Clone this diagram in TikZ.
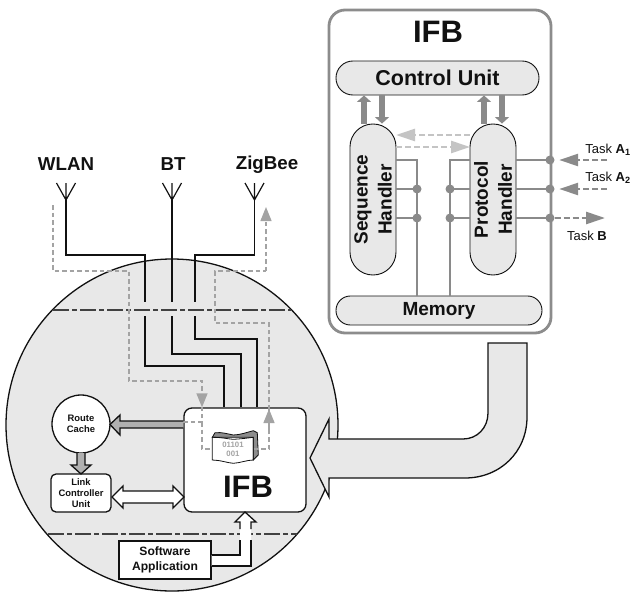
\documentclass[tikz,border=0pt]{standalone}
\usepackage{fontspec}
\setmainfont{Liberation Sans}
\usepackage{xcolor}
\usetikzlibrary{arrows.meta,calc}
\definecolor{ifbInk}{HTML}{111111}
\definecolor{ifbFrame}{HTML}{8C8C8C}
\definecolor{ifbBus}{HTML}{8A8A8A}
\definecolor{ifbPale}{HTML}{C4C4C4}
\definecolor{ifbDash}{HTML}{A3A3A3}
\definecolor{ifbFill}{HTML}{E8E8E8}
\definecolor{ifbMid}{HTML}{B0B0B0}
\tikzset{
  % Rounded unit inside the protocol box
  unitbox/.style={rectangle,draw=ifbInk,line width=0.9pt,fill=ifbFill,
    align=center,inner sep=0pt,text=ifbInk,
    font=\fontsize{19}{24}\selectfont\bfseries},
  % White blocks on the device
  devbox/.style={rectangle,draw=ifbInk,line width=1.3pt,fill=white,
    align=center,inner sep=0pt,text=ifbInk,
    font=\fontsize{9.4}{11.2}\selectfont\bfseries},
  % Labels
  radiolbl/.style={font=\fontsize{18.7}{20}\selectfont\bfseries,text=ifbInk},
  biglbl/.style={font=\fontsize{31}{33}\selectfont\bfseries,text=ifbInk},
  tasklbl/.style={font=\fontsize{13}{15}\selectfont,text=ifbInk},
  % Wires and buses
  wire/.style={draw=ifbInk,line width=1.4pt},
  dwire/.style={draw=ifbDash,line width=1.3pt,dash pattern=on 4.5pt off 3pt},
  dhead/.style={-{Triangle[length=14pt,width=11pt,color=ifbDash]}},
  bus/.style={draw=ifbBus,line width=2.2pt},
  busarr/.style={draw=ifbBus,line width=5.5pt,
    -{Triangle[length=6.5pt,width=14pt,color=ifbBus]}},
  tdash/.style={draw=ifbBus,line width=2.6pt,dash pattern=on 6pt off 3pt},
  thead/.style={-{Triangle[length=19pt,width=12pt,color=ifbBus]}},
  pdash/.style={draw=ifbPale,line width=2.6pt,dash pattern=on 6pt off 3pt,
    -{Triangle[length=19pt,width=12pt,color=ifbPale]}},
  cutline/.style={draw=ifbInk!80,line width=1.3pt,dash pattern=on 16pt off 3pt on 5pt off 3pt},
  junction/.style={circle,fill=ifbBus,inner sep=0pt,minimum size=9pt},
  antenna/.style={draw=ifbInk,line width=1.2pt},
  outl/.style={draw=ifbInk,line width=1.3pt},
}
\begin{document}
\begin{tikzpicture}[x=1pt,y=-1pt]
  \useasboundingbox (0,0) rectangle (635,592);

  % Protocol box
  \node[draw=ifbFrame,line width=2.8pt,fill=white,rounded corners=16pt,
    minimum width=222pt,minimum height=323pt,inner sep=0pt] (ifbOuter) at (440,171.5) {};
  \node[biglbl] (ifbTitle) at (438,32) {IFB};
  \node[unitbox,rounded corners=16.9pt,minimum width=203pt,minimum height=34pt,
    font=\fontsize{21.5}{23}\selectfont\bfseries] (ctrlUnit) at (437.5,78) {Control Unit};
  \node[unitbox,rounded corners=14.4pt,minimum width=206pt,minimum height=29pt] (memUnit) at (439,310.5) {Memory};
  \node[unitbox,rotate=90,rounded corners=22.9pt,minimum width=151pt,minimum height=46pt] (seqH) at (373,199.5) {Sequence\\Handler};
  \node[unitbox,rotate=90,rounded corners=22.9pt,minimum width=151pt,minimum height=46pt] (protoH) at (493,199.5) {Protocol\\Handler};

  % Control arrows
  \draw[busarr] (364,0 |- seqH.east) -- (364,0 |- ctrlUnit.south);
  \draw[busarr] (382,0 |- ctrlUnit.south) -- (382,0 |- seqH.east);
  \draw[busarr] (484,0 |- protoH.east) -- (484,0 |- ctrlUnit.south);
  \draw[busarr] (502,0 |- ctrlUnit.south) -- (502,0 |- protoH.east);

  % Handler to handler
  \draw[pdash] (470,135) -- (396,135);
  \draw[pdash] (396,147) -- (470,147);

  % Memory buses
  \draw[bus] (396,160) -| (417,0 |- memUnit.north);
  \draw[bus] (470,160) -| (450,0 |- memUnit.north);
  \foreach \y in {189,218} {
    \draw[bus] (396,\y) -- (417,\y);
    \draw[bus] (450,\y) -- (470,\y);
    \node[junction] (seqJ\y) at (417,\y) {};
    \node[junction] (protoJ\y) at (450,\y) {};
  }
  \foreach \y in {160,189,218} {
    \draw[bus] (516,\y) -- (550,\y);
    \node[junction] (outJ\y) at (550,\y) {};
  }

  % Tasks
  \coordinate (taskAa) at (607,160);
  \coordinate (taskAb) at (607,189);
  \coordinate (taskBb) at (605,218);
  \draw[tdash,thead,shorten >=4.5pt] (taskAa) -- (outJ160);
  \draw[tdash,thead,shorten >=4.5pt] (taskAb) -- (outJ189);
  \draw[tdash,thead] (outJ218) -- (taskBb);
  \node[tasklbl] (taskAaL) at (608,150) {Task \textbf{A\textsubscript{1}}};
  \node[tasklbl] (taskAbL) at (608,178) {Task \textbf{A\textsubscript{2}}};
  \node[tasklbl] (taskBL) at (587,236) {Task \textbf{B}};

  % Radios
  \node[radiolbl] (wlanL) at (66,164) {WLAN};
  \node[radiolbl] (btL) at (173,164) {BT};
  \node[radiolbl] (zigL) at (267,165) {ZigBee};
  \foreach \n/\x in {wlanFeed/66,btFeed/172,zigFeed/254.5} {
    \coordinate (\n) at (\x,200);
    \draw[antenna] (\x-9.5,183) -- (\n) -- (\x+9.5,183) (\n) -- (\x,183);
  }

  % Device
  \node[circle,draw=ifbInk,line width=1.3pt,fill=ifbFill,minimum size=332pt,inner sep=0pt] (devDisc) at (172,425) {};
  \draw[cutline] (53,310) -- (291,310);
  \draw[cutline] (48,534) -- (297,534);

  % Radio wires
  \draw[wire] (wlanFeed) |- (145,255) -- (145,302);
  \draw[wire] (btFeed) -- (172,302);
  \draw[wire] (zigFeed) |- (195,255) -- (195,302);

  % Device blocks
  \node[devbox,minimum width=122pt,minimum height=104pt,rounded corners=8pt] (ifbLocal) at (245,460) {};
  \node[biglbl] (ifbLocalL) at (248,487) {IFB};
  \node[devbox,circle,minimum size=58pt] (routeCache) at (81,424) {Route\\Cache};
  \node[devbox,rounded corners=5pt,minimum width=60pt,minimum height=38pt] (linkUnit) at (81,493) {Link\\Controller\\Unit};
  \node[devbox,minimum width=92pt,minimum height=38pt,
    font=\fontsize{12.1}{15}\selectfont\bfseries] (swApp) at (165,560) {Software\\Application};

  \draw[wire] (145,316) |- (224,366) -- (224,0 |- ifbLocal.north);
  \draw[wire] (172,316) |- (241,354) -- (241,0 |- ifbLocal.north);
  \draw[wire] (195,316) |- (257,339) -- (257,0 |- ifbLocal.north);

  % Packet icon
  \draw[outl,line width=0.8pt,fill=ifbFrame] (212.3,437.3) -- (215,432.7)
    .. controls (222,432) and (228,434) .. (233.3,435)
    .. controls (240,435) and (248,432) .. (253.3,430.7)
    -- (257.3,432.7) -- (258.3,455) -- (253.3,460) -- (253.3,437.3) -- cycle;
  \node[inner sep=0pt,font=\fontsize{7.8}{9}\selectfont\bfseries,text=ifbDash,align=center,
    minimum width=41pt,minimum height=23pt] (packet) at (233,449) {01101\\001};
  \draw[outl,line width=0.8pt] (212.3,437.3) .. controls (220,437) and (228,439) .. (233.3,439.3)
    .. controls (240,439) and (248,438) .. (253.3,437.3) -- (253.3,460)
    .. controls (247,460) and (240,463) .. (233.3,463.3)
    .. controls (228,463) and (220,460) .. (212.3,460) -- cycle;

  % Dashed flow in
  \coordinate (wlanTail) at (53,205);
  \draw[dwire,dhead] (wlanTail) |- (129,271) |- (202,381) -- (202,0 |- ifbLocal.north);
  \draw[dwire] (ifbLocal.west |- 0,422) -- (202,422) -- (202,0 |- ifbLocal.north);
  \draw[dwire] (202,422) |- (packet.west);

  % Dashed flow out
  \draw[dwire] (packet.east) -| (269,409);
  \draw[dwire,dhead] (269,430) -- (269,409);
  \coordinate (zigTip) at (266,207);
  \draw[dwire] (269,409) |- (215,323) |- (266,271);
  \draw[dwire,dhead] (266,271) -- (zigTip);

  % Block arrows
  \draw[outl,fill=ifbMid] (ifbLocal.west |- 0,421) -- (120,421) -- (120,415) -- (110,424.5)
    -- (120,435) -- (120,428) -- (ifbLocal.west |- 0,428);
  \draw[outl,fill=ifbMid] (77,453) -- (77,465) -- (71,465) -- (81,474) -- (91,465) -- (85,465) -- (85,453);
  \draw[outl,fill=white] (112,497) -- (123,486) -- (123,491) -- (173,491) -- (173,486) -- (184,497)
    -- (173,508) -- (173,503) -- (123,503) -- (123,508) -- cycle;

  % Application arrow
  \fill[white] (swApp.east |- 0,555) -- (240,555) -- (240,522) -- (235,522) -- (245,512)
    -- (256,522) -- (251,522) -- (251,566) -- (swApp.east |- 0,566) -- cycle;
  \draw[outl] (240,529) -- (240,522) -- (235,522) -- (245,512) -- (256,522) -- (251,522) -- (251,529);
  \draw[outl] (swApp.east |- 0,555) -- (240,555) -- (240,540);
  \draw[outl] (swApp.east |- 0,566) -- (251,566) -- (251,540);

  % Big feed from the memory side
  \draw[outl,fill=ifbFill] (488,343) -- (527,343) -- (527,417)
    .. controls (527,452) and (500,478) .. (465,478)
    -- (329,478) -- (329,497) -- (310,458) -- (329,419) -- (329,439) -- (463,439)
    .. controls (477,439) and (488,428) .. (488,413) -- cycle;
\end{tikzpicture}
\end{document}
